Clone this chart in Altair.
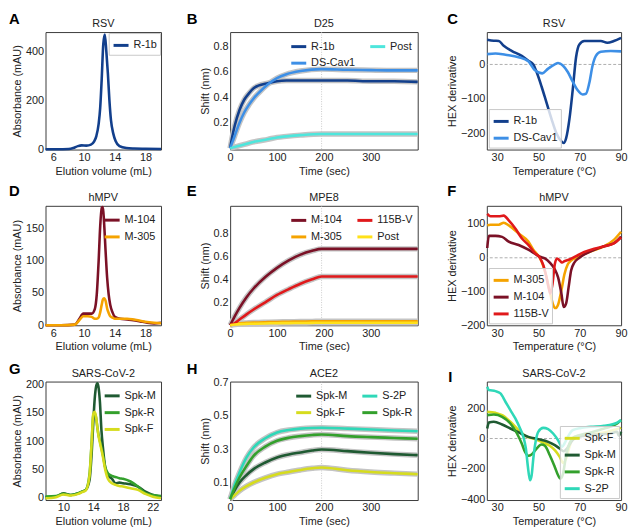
import altair as alt
import pandas as pd

FONT = "Liberation Sans"
TXT = "#222222"

# ---------------- A: RSV SEC ----------------
A_vol = [5.0, 6.5, 8.0, 8.6, 9.2, 9.7, 10.3, 10.9, 11.3, 11.6, 11.9, 12.1, 12.3, 12.5, 12.7, 12.9, 13.1, 13.3, 13.5, 13.8, 14.1, 14.6, 15.5, 16.5, 18.0, 20.0]
A_R1b = [1, 1, 2, 6, 14, 17, 16, 20, 32, 55, 105, 170, 290, 430, 470, 400, 310, 200, 120, 65, 35, 14, 6, 4, 3, 2]

# ---------------- B: D25 BLI ----------------
B_t = [0, 5, 10, 20, 30, 40, 50, 60, 80, 100, 120, 150, 195, 250, 300, 350, 400]
B_R1b = [0, 0.10, 0.18, 0.30, 0.38, 0.43, 0.47, 0.49, 0.51, 0.525, 0.53, 0.53, 0.53, 0.53, 0.525, 0.525, 0.52]
B_DS = [0, 0.05, 0.10, 0.20, 0.28, 0.34, 0.39, 0.43, 0.50, 0.55, 0.58, 0.605, 0.62, 0.615, 0.612, 0.61, 0.61]
B_Post = [0, 0.005, 0.01, 0.02, 0.03, 0.04, 0.05, 0.057, 0.07, 0.085, 0.093, 0.103, 0.112, 0.112, 0.112, 0.112, 0.112]

# ---------------- C: RSV DSF ----------------
C_R1b_T = [25.2, 28.4, 30.8, 33.2, 37.2, 41.9, 45.1, 47.5, 49.1, 51.5, 53.9, 56.3, 58.7, 61.1, 62.2, 63.4, 65.0, 66.6, 68.2, 69.8, 72.2, 75.4, 80.2, 83.3, 86.5, 90]
C_R1b = [72, 69, 68, 54, 39, 25, 11, 0, -22, -64, -111, -158, -200, -223, -228, -214, -158, -73, 21, 58, 68, 68, 68, 63, 68, 77]
C_DS_T = [25.2, 29.2, 34.0, 40.4, 45.1, 48.3, 51.8, 54.7, 57.9, 59.5, 61.8, 64.2, 66.6, 69.0, 71.4, 73.0, 74.6, 76.2, 77.8, 80.2, 85.0, 90]
C_DS = [30, 32, 28, 21, 9, -17, -26, -12, 0, 4, -3, -22, -50, -75, -87, -85, -54, -3, 25, 37, 39, 38]

# ---------------- D: hMPV SEC ----------------
D_vol = [5.0, 7.0, 8.8, 9.4, 9.9, 10.5, 11.0, 11.4, 11.65, 11.9, 12.1, 12.3, 12.45, 12.6, 12.8, 13.0, 13.2, 13.4, 13.7, 14.0, 14.7, 15.6, 16.4, 17.3, 18.2, 19.1, 20.0]
D_M104 = [0, 0, 1, 10, 18, 18, 18, 25, 47, 100, 153, 182, 183, 160, 115, 74, 48, 32, 20, 13, 10, 9, 8, 6, 4, 3, 4]
D_M305 = [0, 0, 1, 8, 14, 14, 13, 10, 10, 12, 20, 32, 40, 42, 38, 26, 19, 14, 12, 10, 10, 10, 9, 7, 5, 4, 3]

# ---------------- E: MPE8 BLI ----------------
E_t = [0, 10, 20, 35, 50, 75, 100, 125, 150, 175, 195, 250, 300, 350, 400]
E_M104 = [0, 0.08, 0.152, 0.245, 0.32, 0.42, 0.50, 0.565, 0.615, 0.648, 0.665, 0.665, 0.665, 0.665, 0.665]
E_115 = [0, 0.02, 0.05, 0.095, 0.137, 0.20, 0.264, 0.315, 0.362, 0.40, 0.425, 0.425, 0.425, 0.425, 0.425]
E_M305 = [0, 0.012, 0.018, 0.021, 0.024, 0.027, 0.029, 0.031, 0.033, 0.034, 0.035, 0.035, 0.035, 0.035, 0.035]
E_Post = [0, 0.006, 0.01, 0.012, 0.014, 0.016, 0.018, 0.019, 0.02, 0.021, 0.022, 0.022, 0.022, 0.022, 0.022]

# ---------------- F: hMPV DSF ----------------
F_M305_T = [25.2, 26.8, 30.8, 33.2, 35.6, 40.4, 45.1, 47.5, 49.1, 50.7, 52.3, 53.9, 55.5, 57.1, 58.2, 59.5, 61.1, 62.6, 64.2, 65.8, 69.0, 75.4, 81.8, 86.5, 90]
F_M305 = [96, 98, 98, 104, 96, 72, 48, 24, 12, 0, -24, -58, -101, -139, -149, -139, -96, -48, -19, -8, 2, 19, 34, 53, 77]
F_M104_T = [25.2, 26.0, 29.2, 32.4, 35.6, 40.4, 45.1, 48.3, 50.7, 53.1, 55.5, 57.9, 59.5, 61.1, 62.2, 63.4, 64.6, 65.8, 67.4, 69.8, 72.2, 77.0, 81.8, 86.5, 90]
F_M104 = [29, 65, 65, 62, 48, 38, 24, 12, 3, -2, -14, -34, -58, -106, -146, -135, -87, -38, -14, 0, 10, 24, 34, 43, 63]
F_115_T = [25.2, 26.8, 30.8, 33.2, 35.6, 38.8, 41.9, 45.1, 48.3, 50.7, 52.3, 53.9, 55.0, 55.8, 56.8, 57.9, 59.0, 60.3, 61.4, 62.6, 65.0, 68.2, 72.2, 77.0, 81.8, 86.5, 90]
F_115 = [130, 123, 123, 125, 111, 87, 58, 38, 14, 0, -21, -58, -91, -106, -77, -19, -2, -8, -14, -10, -5, 5, 17, 27, 34, 43, 60]

# ---------------- G: SARS-CoV-2 SEC ----------------
G_vol = [7.6, 9.0, 10.0, 11.0, 12.0, 12.5, 13.0, 13.5, 13.8, 14.0, 14.2, 14.4, 14.55, 14.7, 14.9, 15.1, 15.3, 15.6, 16.0, 16.5, 17.0, 17.5, 18.0, 19.0, 20.0, 21.0, 22.0, 23.1]
G_M = [0, 1, 7, 4, 7, 10, 13, 30, 80, 130, 175, 198, 203, 197, 170, 120, 89, 54, 39, 33, 25, 26, 25, 23, 19, 10, 4, 1]
G_R = [1, 2, 6, 4, 7, 10, 13, 40, 100, 145, 150, 140, 125, 112, 100, 88, 75, 54, 42, 38, 36, 34, 33, 28, 19, 7, 4, 2]
G_F = [-2, 0, 5, 3, 6, 9, 12, 38, 100, 148, 152, 142, 125, 110, 97, 85, 72, 50, 32, 25, 22, 20, 19, 16, 13, 6, 1, -2]

# ---------------- H: ACE2 BLI ----------------
H_t = [0, 10, 20, 35, 50, 75, 100, 125, 150, 175, 195, 250, 300, 350, 400]
H_S2P = [0, 0.09, 0.16, 0.25, 0.31, 0.365, 0.40, 0.415, 0.423, 0.427, 0.428, 0.423, 0.418, 0.412, 0.407]
H_R = [0, 0.07, 0.13, 0.20, 0.26, 0.315, 0.35, 0.368, 0.378, 0.385, 0.388, 0.378, 0.372, 0.367, 0.362]
H_M = [0, 0.055, 0.10, 0.145, 0.18, 0.22, 0.25, 0.268, 0.28, 0.292, 0.298, 0.288, 0.278, 0.27, 0.264]
H_F = [0, 0.025, 0.05, 0.078, 0.10, 0.128, 0.15, 0.163, 0.175, 0.185, 0.19, 0.173, 0.163, 0.156, 0.15]

# ---------------- I: SARS-CoV-2 DSF ----------------
I_S2P_T = [25.2, 26.0, 29.2, 31.6, 34.0, 36.4, 38.8, 41.1, 42.7, 43.9, 44.8, 45.9, 46.7, 47.5, 48.6, 49.9, 52.3, 54.7, 57.1, 59.5, 61.4, 62.6, 64.2, 66.6, 70.6, 75.4, 81.8, 88.1, 90]
I_S2P = [341, 319, 312, 297, 242, 187, 132, 66, 11, -66, -176, -275, -242, -132, -22, 44, 70, 62, 33, -11, -55, -33, 11, 55, 70, 77, 84, 105, 121]
I_F_T = [25.2, 29.2, 32.4, 36.4, 40.4, 43.5, 47.5, 51.5, 55.5, 57.9, 60.3, 61.9, 63.4, 65.0, 66.6, 69.0, 75.4, 81.8, 90]
I_F = [176, 169, 154, 110, 55, 18, 0, -22, -48, -77, -121, -160, -132, -55, 0, 18, 26, 40, 70]
I_M_T = [25.2, 26.0, 28.4, 32.4, 36.4, 40.4, 45.1, 49.9, 54.7, 57.9, 60.3, 62.2, 63.8, 65.8, 67.4, 72.2, 78.5, 84.9, 88.1, 88.9, 90]
I_M = [66, 105, 110, 92, 66, 40, 11, -4, -22, -44, -66, -84, -66, -22, 0, 18, 26, 33, 44, 18, 44]
I_R_T = [25.2, 28.4, 32.4, 36.4, 39.6, 41.9, 43.5, 45.1, 46.7, 49.1, 51.5, 53.1, 55.5, 57.9, 59.5, 60.6, 61.9, 63.4, 65.0, 66.6, 69.0, 75.4, 81.8, 88.1, 90]
I_R = [154, 158, 143, 99, 33, -33, -88, -114, -105, -66, -40, -48, -110, -187, -242, -264, -231, -110, -33, 4, 18, 40, 66, 99, 121]

# colours
C_R1B, C_DSC, C_POSTB = "#123f8c", "#3d8fe6", "#4ee6dc"
C_M104, C_M305, C_115, C_POSTE = "#7b1126", "#f5a300", "#e0191b", "#ffe119"
C_SM, C_SR, C_SF, C_S2P = "#1f5a32", "#33a02c", "#d6dc1e", "#2fd8b8"


def long_df(series):
    rows = []
    for name, (xs, ys) in series.items():
        for xv, yv in zip(xs, ys):
            rows.append({"x": xv, "y": yv, "s": name})
    return pd.DataFrame(rows)


def legend(orient, columns=1, border=False, offset=2):
    kw = dict(orient=orient, title=None, symbolType="stroke", symbolStrokeWidth=3,
              symbolSize=230, labelFontSize=11, labelFont=FONT, labelColor=TXT,
              offset=offset, padding=3, rowPadding=1, columnPadding=8, labelOffset=3,
              columns=columns)
    if border:
        kw.update(strokeColor="#c8c8c8", fillColor="rgba(255,255,255,0.8)")
    return alt.Legend(**kw)


def panel(series, colors, xdom, ydom, xvals, yvals, xtitle, ytitle, title, letter,
          lx, ly, leg, w, h, yfmt="d", raw=False, vline=None, hline=False):
    names = list(series.keys())
    df = long_df(series)
    xenc = alt.X("x:Q", scale=alt.Scale(domain=xdom, nice=False, zero=False),
                 axis=alt.Axis(values=xvals, title=xtitle, format="d"))
    yenc = alt.Y("y:Q", scale=alt.Scale(domain=ydom, nice=False, zero=False),
                 axis=alt.Axis(values=yvals, title=ytitle, format=yfmt))
    layers = []
    if hline:
        layers.append(alt.Chart(pd.DataFrame({"y": [0]})).mark_rule(
            color="#9a9a9a", strokeDash=[3, 2], strokeWidth=0.8).encode(y=yenc))
    if vline is not None:
        layers.append(alt.Chart(pd.DataFrame({"x": [vline]})).mark_rule(
            color="#bdbdbd", strokeDash=[1, 1.5], strokeWidth=0.8).encode(x=xenc))
    if raw:
        layers.append(alt.Chart(df).mark_line(
            color="#c4c4c4", strokeWidth=5.5, interpolate="monotone").encode(
            x=xenc, y=yenc, detail="s:N"))
    layers.append(alt.Chart(df).mark_line(strokeWidth=2.6, interpolate="monotone").encode(
        x=xenc, y=yenc,
        color=alt.Color("s:N", scale=alt.Scale(domain=names, range=colors), legend=leg)))
    # panel letter
    layers.append(alt.Chart(pd.DataFrame({"t": [letter]})).mark_text(
        align="left", baseline="top", fontSize=15, fontWeight="bold", font=FONT,
        color="black").encode(text="t:N", x=alt.value(lx), y=alt.value(ly)))
    # panel title
    layers.append(alt.Chart(pd.DataFrame({"t": [title]})).mark_text(
        align="center", baseline="bottom", fontSize=11, font=FONT,
        color=TXT).encode(text="t:N", x=alt.value(w / 2), y=alt.value(-3)))
    return alt.layer(*layers).properties(width=w, height=h)


W1, W2, W3 = 117, 190, 136
H1, H2, H3 = 119, 121, 120

pA = panel({"R-1b": (A_vol, A_R1b)}, [C_R1B], [5, 20], [0, 480], [6, 10, 14, 18],
           [0, 200, 400], "Elution volume (mL)", "Absorbance (mAU)", "RSV", "A",
           -37, -20, legend("top-right", border=True, offset=1), W1, H1)
pB = panel({"R-1b": (B_t, B_R1b), "DS-Cav1": (B_t, B_DS), "Post": (B_t, B_Post)},
           [C_R1B, C_DSC, C_POSTB], [0, 400], [-0.01, 0.91], [0, 100, 200, 300],
           [0.2, 0.4, 0.6, 0.8], "Time (sec)", "Shift (nm)", "D25", "B",
           -44, -20, legend("top-right", columns=2), W2, H1, yfmt=".1f", raw=True, vline=195)
pC = panel({"R-1b": (C_R1b_T, C_R1b), "DS-Cav1": (C_DS_T, C_DS)}, [C_R1B, C_DSC],
           [25, 90], [-247, 94], [30, 50, 70, 90], [-200, -100, 0],
           "Temperature (°C)", "HEX derivative", "RSV", "C",
           -40, -20, legend("bottom-left", border=True), W3, H1, hline=True)

pD = panel({"M-104": (D_vol, D_M104), "M-305": (D_vol, D_M305)}, [C_M104, C_M305],
           [5, 20], [0, 185], [6, 10, 14, 18], [0, 50, 100, 150],
           "Elution volume (mL)", "Absorbance (mAU)", "hMPV", "D",
           -37, -22, legend("top-right"), W1, H2)
pE = panel({"M-104": (E_t, E_M104), "M-305": (E_t, E_M305), "115B-V": (E_t, E_115),
            "Post": (E_t, E_Post)}, [C_M104, C_M305, C_115, C_POSTE],
           [0, 400], [0, 1.04], [0, 100, 200, 300], [0.2, 0.4, 0.6, 0.8],
           "Time (sec)", "Shift (nm)", "MPE8", "E",
           -44, -22, legend("top-right", columns=2), W2, H2, yfmt=".1f", raw=True, vline=195)
pF = panel({"M-305": (F_M305_T, F_M305), "M-104": (F_M104_T, F_M104),
            "115B-V": (F_115_T, F_115)}, [C_M305, C_M104, C_115],
           [25, 90], [-200, 154], [30, 50, 70, 90], [-200, -100, 0, 100],
           "Temperature (°C)", "HEX derivative", "hMPV", "F",
           -40, -22, legend("bottom-left", border=True), W3, H2, hline=True)

pG = panel({"Spk-M": (G_vol, G_M), "Spk-R": (G_vol, G_R), "Spk-F": (G_vol, G_F)},
           [C_SM, C_SR, C_SF], [7.6, 23.1], [-5, 206], [10, 14, 18, 22],
           [0, 50, 100, 150, 200], "Elution volume (mL)", "Absorbance (mAU)",
           "SARS-CoV-2", "G", -37, -20, legend("top-right"), W1, H3)
pH = panel({"Spk-M": (H_t, H_M), "Spk-F": (H_t, H_F), "S-2P": (H_t, H_S2P),
            "Spk-R": (H_t, H_R)}, [C_SM, C_SF, C_S2P, C_SR],
           [0, 400], [-0.005, 0.705], [0, 100, 200, 300], [0.1, 0.3, 0.5, 0.7],
           "Time (sec)", "Shift (nm)", "ACE2", "H",
           -44, -20, legend("top-right", columns=2), W2, H3, yfmt=".1f", raw=True, vline=195)
pI = panel({"Spk-F": (I_F_T, I_F), "Spk-M": (I_M_T, I_M), "Spk-R": (I_R_T, I_R),
            "S-2P": (I_S2P_T, I_S2P)}, [C_SF, C_SM, C_SR, C_S2P],
           [25, 90], [-405, 375], [30, 50, 70, 90], [-400, -200, 0, 200],
           "Temperature (°C)", "HEX derivative", "SARS-CoV-2", "I",
           -39, -12, legend("bottom-right", border=True), W3, H3, hline=True)

chart = alt.concat(pA, pB, pC, pD, pE, pF, pG, pH, pI, columns=3,
                   spacing={"row": 57, "column": 70}, bounds="flush").resolve_scale(
    x="independent", y="independent", color="independent").resolve_legend(
    color="independent").properties(
    padding={"left": 0, "top": 0, "right": 0, "bottom": 0}).configure_view(
    stroke="#3a3a3a", strokeWidth=1).configure_axis(
    labelFont=FONT, labelFontSize=11, labelColor=TXT, titleFont=FONT, titleFontSize=11,
    titleFontWeight="normal", titleColor=TXT, grid=False, ticks=False, domain=False,
    labelPadding=2, titlePadding=3, labelFlush=False, labelOverlap=False)

chart.save("out.html", embed_options={"renderer": "svg", "actions": False})
